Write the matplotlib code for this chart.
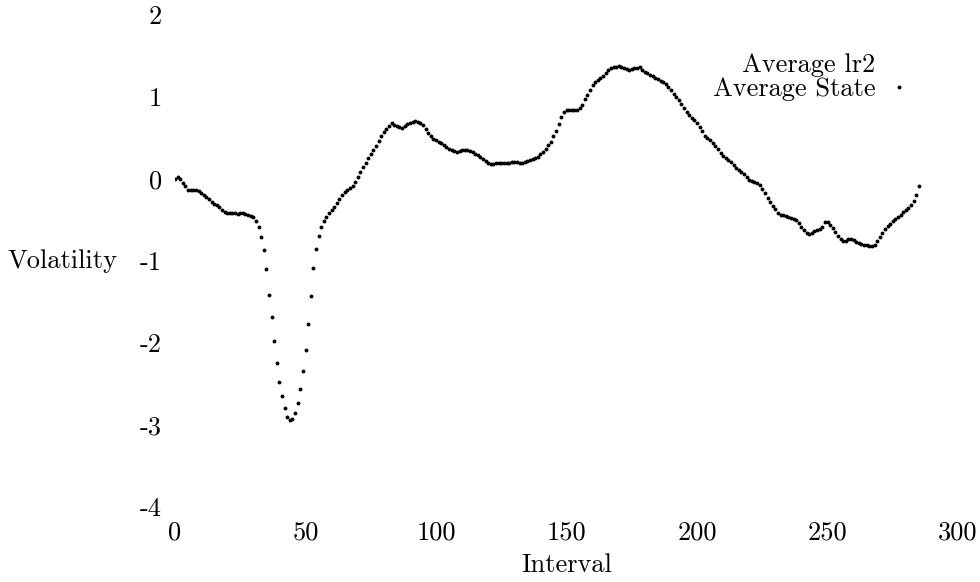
import matplotlib
matplotlib.use('Agg')
import matplotlib.pyplot as plt
from matplotlib.lines import Line2D
import numpy as np

# average state per interval
interval = list(range(0, 286))
avg_state = [
    0.00, 0.02, 0.00, -0.05, -0.09, -0.13, -0.14, -0.14, -0.14, -0.15,
    -0.17, -0.19, -0.22, -0.25, -0.28, -0.30, -0.32, -0.34, -0.38, -0.40,
    -0.42, -0.42, -0.41, -0.42, -0.43, -0.42, -0.42, -0.43, -0.44, -0.45,
    -0.46, -0.51, -0.59, -0.71, -0.87, -1.10, -1.41, -1.68, -1.97, -2.24,
    -2.47, -2.65, -2.79, -2.90, -2.94, -2.93, -2.86, -2.73, -2.56, -2.34,
    -2.09, -1.77, -1.43, -1.08, -0.85, -0.70, -0.58, -0.51, -0.46, -0.42,
    -0.38, -0.34, -0.29, -0.24, -0.20, -0.16, -0.13, -0.11, -0.08, -0.04,
    0.03, 0.09, 0.15, 0.20, 0.25, 0.30, 0.35, 0.40, 0.46, 0.52,
    0.57, 0.61, 0.65, 0.68, 0.66, 0.64, 0.63, 0.62, 0.64, 0.67,
    0.68, 0.69, 0.71, 0.70, 0.685, 0.66, 0.61, 0.56, 0.52, 0.49,
    0.47, 0.455, 0.44, 0.415, 0.39, 0.37, 0.35, 0.34, 0.33, 0.34,
    0.35, 0.355, 0.35, 0.34, 0.325, 0.31, 0.29, 0.27, 0.245, 0.22,
    0.195, 0.18, 0.18, 0.19, 0.195, 0.19, 0.19, 0.195, 0.20, 0.205,
    0.21, 0.205, 0.20, 0.20, 0.21, 0.22, 0.23, 0.24, 0.25, 0.27,
    0.30, 0.33, 0.36, 0.41, 0.45, 0.52, 0.59, 0.67, 0.76, 0.82,
    0.84, 0.84, 0.84, 0.84, 0.84, 0.86, 0.90, 0.97, 1.03, 1.08,
    1.14, 1.185, 1.21, 1.23, 1.26, 1.29, 1.33, 1.35, 1.365, 1.365,
    1.375, 1.37, 1.355, 1.335, 1.33, 1.34, 1.35, 1.355, 1.365, 1.33,
    1.305, 1.29, 1.27, 1.255, 1.235, 1.215, 1.20, 1.18, 1.16, 1.12,
    1.08, 1.035, 1.00, 0.96, 0.92, 0.87, 0.82, 0.78, 0.74, 0.72,
    0.68, 0.635, 0.58, 0.53, 0.50, 0.47, 0.44, 0.405, 0.36, 0.315,
    0.275, 0.255, 0.235, 0.21, 0.175, 0.13, 0.105, 0.08, 0.055, 0.025,
    -0.01, -0.03, -0.04, -0.045, -0.07, -0.12, -0.17, -0.235, -0.285, -0.33,
    -0.37, -0.41, -0.435, -0.445, -0.45, -0.465, -0.475, -0.49, -0.50, -0.535,
    -0.58, -0.62, -0.655, -0.67, -0.66, -0.64, -0.625, -0.605, -0.585, -0.53,
    -0.53, -0.56, -0.60, -0.645, -0.69, -0.73, -0.755, -0.755, -0.735, -0.73,
    -0.75, -0.765, -0.785, -0.795, -0.80, -0.81, -0.815, -0.815, -0.80, -0.76,
    -0.71, -0.66, -0.61, -0.575, -0.545, -0.515, -0.49, -0.465, -0.44, -0.405,
    -0.38, -0.35, -0.32, -0.27, -0.20, -0.08,
]

xticks = [0, 50, 100, 150, 200, 250, 300]
yticks = [-4, -3, -2, -1, 0, 1, 2]

FS = 19

plt.rcParams['font.family'] = ['cmr10', 'DejaVu Serif']
plt.rcParams['axes.unicode_minus'] = False
plt.rcParams['font.size'] = FS

fig = plt.figure(figsize=(9.8, 5.82), dpi=100)
ax = fig.add_axes([0.1786, 0.1289, 0.799, 0.8454])

ax.plot(interval, avg_state, linestyle='none', marker='o', ms=1.8,
        color='black')

ax.set_xlim(0, 300)
ax.set_ylim(-4, 2)
ax.set_xticks(xticks)
ax.set_xticklabels([str(t) for t in xticks])
ax.set_yticks(yticks)
ax.set_yticklabels([str(t) for t in yticks])
ax.tick_params(length=0, labelsize=FS)
ax.tick_params(axis='x', pad=10)
ax.tick_params(axis='y', pad=9.5)
for s in ax.spines.values():
    s.set_visible(False)

ax.set_xlabel('Interval', fontsize=FS, va='center')
ax.xaxis.set_label_coords(0.5, -0.118)
ax.set_ylabel('Volatility', fontsize=FS, rotation=0, ha='right', va='center')
ax.yaxis.set_label_coords(-0.074, 0.5)

# legend: lr2 has no visible marker, state drawn as dots
h1 = Line2D([], [], linestyle='none', marker=None)
h2 = Line2D([], [], linestyle='none', marker='o', ms=1.8, color='black')
ax.legend([h1, h2], ['Average lr2', 'Average State'], markerfirst=False,
          frameon=False, fontsize=FS, loc='upper right',
          bbox_to_anchor=(0.958, 0.949), bbox_transform=fig.transFigure,
          handlelength=1.2, handletextpad=0.3, labelspacing=0.0)

fig.savefig('out.png', dpi=100)
